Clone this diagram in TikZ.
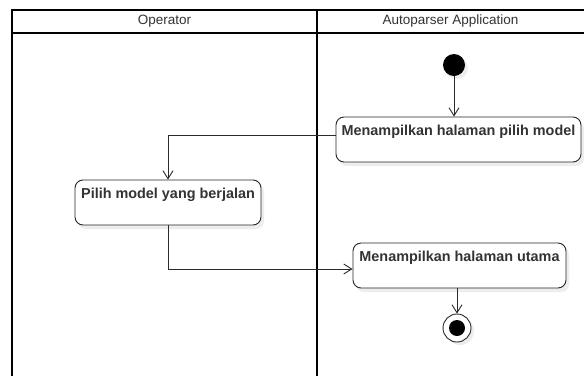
\documentclass[tikz,border=0pt]{standalone}
\usepackage{fontspec}
\setmainfont{Liberation Sans}
\usetikzlibrary{arrows.meta,shadows,calc}
\definecolor{ink}{HTML}{333333}
\definecolor{edge}{HTML}{2B2B2B}
\begin{document}
\begin{tikzpicture}[x=1pt,y=-1pt,
  lane/.style={draw=black,line width=1.6pt},
  lanetitle/.style={font=\fontsize{13.5}{15}\selectfont,text=ink,inner sep=0pt},
  action/.style={draw=black!85,line width=0.9pt,rounded corners=8pt,fill=white,
    drop shadow={shadow xshift=3pt,shadow yshift=-4pt,fill=black!7,opacity=1},
    font=\fontsize{14.4}{16}\selectfont\bfseries,text=ink,
    inner xsep=0pt,inner ysep=0pt,text height=18pt,text depth=27pt},
  initial/.style={circle,fill=black,inner sep=0pt,minimum size=22pt,
    drop shadow={shadow xshift=3pt,shadow yshift=-3pt,fill=black!7,opacity=1}},
  final/.style={circle,draw=black!85,line width=0.9pt,fill=white,inner sep=0pt,minimum size=28pt,
    drop shadow={shadow xshift=3pt,shadow yshift=-3pt,fill=black!7,opacity=1}},
  flow/.style={draw=edge,line width=0.9pt,-{Straight Barb[length=8pt,width=10pt]}}
]
\useasboundingbox (0,0) rectangle (584,376);
\fill[white] (0,0) rectangle (584,376);

% swimlane frame
\draw[lane] (12,376) -- (12,10) -- (584,10);
\draw[lane] (12,33) -- (584,33);
\draw[lane] (317,10) -- (317,376);
\node[lanetitle] (hop) at (164.5,21.5) {Operator};
\node[lanetitle] (happ) at (450.5,21.5) {Autoparser Application};

% activities
\node[initial] (start) at (454,65) {};
\node[action,minimum width=245pt] (showmodel) at (458.5,139.5) {Menampilkan halaman pilih model};
\node[action,minimum width=186pt] (pick) at (168,202.5) {Pilih model yang berjalan};
\node[action,minimum width=213pt] (showmain) at (459.5,265.5) {Menampilkan halaman utama};
\node[final] (stop) at (457,328) {};
\fill[black] (stop.center) circle (8pt);

% control flows
\draw[flow] (start) -- (start |- showmodel.north);
\draw[flow] ($(showmodel.west)+(0,-4)$) -| (pick.north);
\draw[flow] (pick.south) |- ($(showmain.west)+(0,3.5)$);
\draw[flow] (showmain.south -| stop) -- (stop.north);
\end{tikzpicture}
\end{document}
